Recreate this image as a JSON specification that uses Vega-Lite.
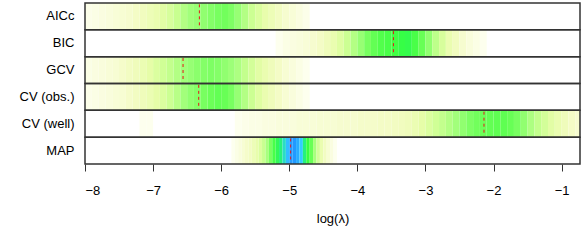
{
 "$schema": "https://vega.github.io/schema/vega-lite/v6.json",
 "width": 495, "height": 161,
 "autosize": "none",
 "padding": {"left": 85, "top": 3, "right": 1, "bottom": 85},
 "background": "white",
 "config": {"view": {"stroke": null}, "font": "Liberation Sans"},
 "datasets": {
  "opt": [
   {"method": "AICc", "opt": -6.32},
   {"method": "BIC", "opt": -3.47},
   {"method": "GCV", "opt": -6.56},
   {"method": "CV (obs.)", "opt": -6.33},
   {"method": "CV (well)", "opt": -2.14},
   {"method": "MAP", "opt": -4.98}
  ],
  "heat": [
   {"method":"AICc","lo":-8.0,"hi":-7.9,"v":0.04},{"method":"AICc","lo":-7.9,"hi":-7.8,"v":0.05},{"method":"AICc","lo":-7.8,"hi":-7.7,"v":0.06},{"method":"AICc","lo":-7.7,"hi":-7.6,"v":0.07},{"method":"AICc","lo":-7.6,"hi":-7.5,"v":0.08},{"method":"AICc","lo":-7.5,"hi":-7.4,"v":0.09},{"method":"AICc","lo":-7.4,"hi":-7.3,"v":0.10},{"method":"AICc","lo":-7.3,"hi":-7.2,"v":0.12},{"method":"AICc","lo":-7.2,"hi":-7.1,"v":0.14},{"method":"AICc","lo":-7.1,"hi":-7.0,"v":0.16},{"method":"AICc","lo":-7.0,"hi":-6.9,"v":0.18},{"method":"AICc","lo":-6.9,"hi":-6.8,"v":0.21},{"method":"AICc","lo":-6.8,"hi":-6.7,"v":0.24},{"method":"AICc","lo":-6.7,"hi":-6.6,"v":0.28},{"method":"AICc","lo":-6.6,"hi":-6.5,"v":0.32},{"method":"AICc","lo":-6.5,"hi":-6.4,"v":0.35},{"method":"AICc","lo":-6.4,"hi":-6.3,"v":0.37},{"method":"AICc","lo":-6.3,"hi":-6.2,"v":0.38},{"method":"AICc","lo":-6.2,"hi":-6.1,"v":0.40},{"method":"AICc","lo":-6.1,"hi":-6.0,"v":0.42},{"method":"AICc","lo":-6.0,"hi":-5.9,"v":0.43},{"method":"AICc","lo":-5.9,"hi":-5.8,"v":0.41},{"method":"AICc","lo":-5.8,"hi":-5.7,"v":0.37},{"method":"AICc","lo":-5.7,"hi":-5.6,"v":0.32},{"method":"AICc","lo":-5.6,"hi":-5.5,"v":0.27},{"method":"AICc","lo":-5.5,"hi":-5.4,"v":0.23},{"method":"AICc","lo":-5.4,"hi":-5.3,"v":0.19},{"method":"AICc","lo":-5.3,"hi":-5.2,"v":0.16},{"method":"AICc","lo":-5.2,"hi":-5.1,"v":0.13},{"method":"AICc","lo":-5.1,"hi":-5.0,"v":0.10},{"method":"AICc","lo":-5.0,"hi":-4.9,"v":0.08},{"method":"AICc","lo":-4.9,"hi":-4.8,"v":0.06},{"method":"AICc","lo":-4.8,"hi":-4.7,"v":0.04},
   {"method":"BIC","lo":-5.2,"hi":-5.1,"v":0.03},{"method":"BIC","lo":-5.1,"hi":-5.0,"v":0.05},{"method":"BIC","lo":-5.0,"hi":-4.9,"v":0.06},{"method":"BIC","lo":-4.9,"hi":-4.8,"v":0.07},{"method":"BIC","lo":-4.8,"hi":-4.7,"v":0.08},{"method":"BIC","lo":-4.7,"hi":-4.6,"v":0.10},{"method":"BIC","lo":-4.6,"hi":-4.5,"v":0.12},{"method":"BIC","lo":-4.5,"hi":-4.4,"v":0.15},{"method":"BIC","lo":-4.4,"hi":-4.3,"v":0.18},{"method":"BIC","lo":-4.3,"hi":-4.2,"v":0.22},{"method":"BIC","lo":-4.2,"hi":-4.1,"v":0.27},{"method":"BIC","lo":-4.1,"hi":-4.0,"v":0.32},{"method":"BIC","lo":-4.0,"hi":-3.9,"v":0.37},{"method":"BIC","lo":-3.9,"hi":-3.8,"v":0.42},{"method":"BIC","lo":-3.8,"hi":-3.7,"v":0.46},{"method":"BIC","lo":-3.7,"hi":-3.6,"v":0.50},{"method":"BIC","lo":-3.6,"hi":-3.5,"v":0.52},{"method":"BIC","lo":-3.5,"hi":-3.4,"v":0.54},{"method":"BIC","lo":-3.4,"hi":-3.3,"v":0.57},{"method":"BIC","lo":-3.3,"hi":-3.2,"v":0.58},{"method":"BIC","lo":-3.2,"hi":-3.1,"v":0.52},{"method":"BIC","lo":-3.1,"hi":-3.0,"v":0.45},{"method":"BIC","lo":-3.0,"hi":-2.9,"v":0.38},{"method":"BIC","lo":-2.9,"hi":-2.8,"v":0.30},{"method":"BIC","lo":-2.8,"hi":-2.7,"v":0.24},{"method":"BIC","lo":-2.7,"hi":-2.6,"v":0.18},{"method":"BIC","lo":-2.6,"hi":-2.5,"v":0.14},{"method":"BIC","lo":-2.5,"hi":-2.4,"v":0.10},{"method":"BIC","lo":-2.4,"hi":-2.3,"v":0.07},{"method":"BIC","lo":-2.3,"hi":-2.2,"v":0.05},{"method":"BIC","lo":-2.2,"hi":-2.1,"v":0.03},
   {"method":"GCV","lo":-8.0,"hi":-7.9,"v":0.05},{"method":"GCV","lo":-7.9,"hi":-7.8,"v":0.06},{"method":"GCV","lo":-7.8,"hi":-7.7,"v":0.07},{"method":"GCV","lo":-7.7,"hi":-7.6,"v":0.08},{"method":"GCV","lo":-7.6,"hi":-7.5,"v":0.09},{"method":"GCV","lo":-7.5,"hi":-7.4,"v":0.11},{"method":"GCV","lo":-7.4,"hi":-7.3,"v":0.13},{"method":"GCV","lo":-7.3,"hi":-7.2,"v":0.15},{"method":"GCV","lo":-7.2,"hi":-7.1,"v":0.17},{"method":"GCV","lo":-7.1,"hi":-7.0,"v":0.20},{"method":"GCV","lo":-7.0,"hi":-6.9,"v":0.23},{"method":"GCV","lo":-6.9,"hi":-6.8,"v":0.26},{"method":"GCV","lo":-6.8,"hi":-6.7,"v":0.29},{"method":"GCV","lo":-6.7,"hi":-6.6,"v":0.32},{"method":"GCV","lo":-6.6,"hi":-6.5,"v":0.35},{"method":"GCV","lo":-6.5,"hi":-6.4,"v":0.37},{"method":"GCV","lo":-6.4,"hi":-6.3,"v":0.39},{"method":"GCV","lo":-6.3,"hi":-6.2,"v":0.40},{"method":"GCV","lo":-6.2,"hi":-6.1,"v":0.41},{"method":"GCV","lo":-6.1,"hi":-6.0,"v":0.40},{"method":"GCV","lo":-6.0,"hi":-5.9,"v":0.38},{"method":"GCV","lo":-5.9,"hi":-5.8,"v":0.36},{"method":"GCV","lo":-5.8,"hi":-5.7,"v":0.33},{"method":"GCV","lo":-5.7,"hi":-5.6,"v":0.29},{"method":"GCV","lo":-5.6,"hi":-5.5,"v":0.25},{"method":"GCV","lo":-5.5,"hi":-5.4,"v":0.21},{"method":"GCV","lo":-5.4,"hi":-5.3,"v":0.18},{"method":"GCV","lo":-5.3,"hi":-5.2,"v":0.15},{"method":"GCV","lo":-5.2,"hi":-5.1,"v":0.12},{"method":"GCV","lo":-5.1,"hi":-5.0,"v":0.09},{"method":"GCV","lo":-5.0,"hi":-4.9,"v":0.07},{"method":"GCV","lo":-4.9,"hi":-4.8,"v":0.05},{"method":"GCV","lo":-4.8,"hi":-4.7,"v":0.03},
   {"method":"CV (obs.)","lo":-8.0,"hi":-7.9,"v":0.04},{"method":"CV (obs.)","lo":-7.9,"hi":-7.8,"v":0.05},{"method":"CV (obs.)","lo":-7.8,"hi":-7.7,"v":0.06},{"method":"CV (obs.)","lo":-7.7,"hi":-7.6,"v":0.07},{"method":"CV (obs.)","lo":-7.6,"hi":-7.5,"v":0.08},{"method":"CV (obs.)","lo":-7.5,"hi":-7.4,"v":0.09},{"method":"CV (obs.)","lo":-7.4,"hi":-7.3,"v":0.11},{"method":"CV (obs.)","lo":-7.3,"hi":-7.2,"v":0.13},{"method":"CV (obs.)","lo":-7.2,"hi":-7.1,"v":0.15},{"method":"CV (obs.)","lo":-7.1,"hi":-7.0,"v":0.17},{"method":"CV (obs.)","lo":-7.0,"hi":-6.9,"v":0.20},{"method":"CV (obs.)","lo":-6.9,"hi":-6.8,"v":0.23},{"method":"CV (obs.)","lo":-6.8,"hi":-6.7,"v":0.27},{"method":"CV (obs.)","lo":-6.7,"hi":-6.6,"v":0.31},{"method":"CV (obs.)","lo":-6.6,"hi":-6.5,"v":0.35},{"method":"CV (obs.)","lo":-6.5,"hi":-6.4,"v":0.38},{"method":"CV (obs.)","lo":-6.4,"hi":-6.3,"v":0.40},{"method":"CV (obs.)","lo":-6.3,"hi":-6.2,"v":0.42},{"method":"CV (obs.)","lo":-6.2,"hi":-6.1,"v":0.44},{"method":"CV (obs.)","lo":-6.1,"hi":-6.0,"v":0.46},{"method":"CV (obs.)","lo":-6.0,"hi":-5.9,"v":0.45},{"method":"CV (obs.)","lo":-5.9,"hi":-5.8,"v":0.42},{"method":"CV (obs.)","lo":-5.8,"hi":-5.7,"v":0.37},{"method":"CV (obs.)","lo":-5.7,"hi":-5.6,"v":0.32},{"method":"CV (obs.)","lo":-5.6,"hi":-5.5,"v":0.27},{"method":"CV (obs.)","lo":-5.5,"hi":-5.4,"v":0.22},{"method":"CV (obs.)","lo":-5.4,"hi":-5.3,"v":0.18},{"method":"CV (obs.)","lo":-5.3,"hi":-5.2,"v":0.15},{"method":"CV (obs.)","lo":-5.2,"hi":-5.1,"v":0.12},{"method":"CV (obs.)","lo":-5.1,"hi":-5.0,"v":0.09},{"method":"CV (obs.)","lo":-5.0,"hi":-4.9,"v":0.07},{"method":"CV (obs.)","lo":-4.9,"hi":-4.8,"v":0.05},{"method":"CV (obs.)","lo":-4.8,"hi":-4.7,"v":0.03},
   {"method":"CV (well)","lo":-7.2,"hi":-7.1,"v":0.03},{"method":"CV (well)","lo":-7.1,"hi":-7.0,"v":0.03},
   {"method":"CV (well)","lo":-5.8,"hi":-5.7,"v":0.03},{"method":"CV (well)","lo":-5.7,"hi":-5.6,"v":0.04},{"method":"CV (well)","lo":-5.6,"hi":-5.5,"v":0.05},{"method":"CV (well)","lo":-5.5,"hi":-5.4,"v":0.05},{"method":"CV (well)","lo":-5.4,"hi":-5.3,"v":0.06},{"method":"CV (well)","lo":-5.3,"hi":-5.2,"v":0.06},{"method":"CV (well)","lo":-5.2,"hi":-5.1,"v":0.07},{"method":"CV (well)","lo":-5.1,"hi":-5.0,"v":0.07},{"method":"CV (well)","lo":-5.0,"hi":-4.9,"v":0.07},{"method":"CV (well)","lo":-4.9,"hi":-4.8,"v":0.08},{"method":"CV (well)","lo":-4.8,"hi":-4.7,"v":0.08},{"method":"CV (well)","lo":-4.7,"hi":-4.6,"v":0.08},{"method":"CV (well)","lo":-4.6,"hi":-4.5,"v":0.09},{"method":"CV (well)","lo":-4.5,"hi":-4.4,"v":0.09},{"method":"CV (well)","lo":-4.4,"hi":-4.3,"v":0.09},{"method":"CV (well)","lo":-4.3,"hi":-4.2,"v":0.10},{"method":"CV (well)","lo":-4.2,"hi":-4.1,"v":0.10},{"method":"CV (well)","lo":-4.1,"hi":-4.0,"v":0.10},{"method":"CV (well)","lo":-4.0,"hi":-3.9,"v":0.11},{"method":"CV (well)","lo":-3.9,"hi":-3.8,"v":0.11},{"method":"CV (well)","lo":-3.8,"hi":-3.7,"v":0.11},{"method":"CV (well)","lo":-3.7,"hi":-3.6,"v":0.12},{"method":"CV (well)","lo":-3.6,"hi":-3.5,"v":0.12},{"method":"CV (well)","lo":-3.5,"hi":-3.4,"v":0.13},{"method":"CV (well)","lo":-3.4,"hi":-3.3,"v":0.14},{"method":"CV (well)","lo":-3.3,"hi":-3.2,"v":0.15},{"method":"CV (well)","lo":-3.2,"hi":-3.1,"v":0.17},{"method":"CV (well)","lo":-3.1,"hi":-3.0,"v":0.20},{"method":"CV (well)","lo":-3.0,"hi":-2.9,"v":0.23},{"method":"CV (well)","lo":-2.9,"hi":-2.8,"v":0.26},{"method":"CV (well)","lo":-2.8,"hi":-2.7,"v":0.29},{"method":"CV (well)","lo":-2.7,"hi":-2.6,"v":0.32},{"method":"CV (well)","lo":-2.6,"hi":-2.5,"v":0.35},{"method":"CV (well)","lo":-2.5,"hi":-2.4,"v":0.38},{"method":"CV (well)","lo":-2.4,"hi":-2.3,"v":0.41},{"method":"CV (well)","lo":-2.3,"hi":-2.2,"v":0.43},{"method":"CV (well)","lo":-2.2,"hi":-2.1,"v":0.44},{"method":"CV (well)","lo":-2.1,"hi":-2.0,"v":0.46},{"method":"CV (well)","lo":-2.0,"hi":-1.9,"v":0.47},{"method":"CV (well)","lo":-1.9,"hi":-1.8,"v":0.47},{"method":"CV (well)","lo":-1.8,"hi":-1.7,"v":0.45},{"method":"CV (well)","lo":-1.7,"hi":-1.6,"v":0.42},{"method":"CV (well)","lo":-1.6,"hi":-1.5,"v":0.38},{"method":"CV (well)","lo":-1.5,"hi":-1.4,"v":0.33},{"method":"CV (well)","lo":-1.4,"hi":-1.3,"v":0.29},{"method":"CV (well)","lo":-1.3,"hi":-1.2,"v":0.25},{"method":"CV (well)","lo":-1.2,"hi":-1.1,"v":0.21},{"method":"CV (well)","lo":-1.1,"hi":-1.0,"v":0.18},{"method":"CV (well)","lo":-1.0,"hi":-0.9,"v":0.15},{"method":"CV (well)","lo":-0.9,"hi":-0.8,"v":0.12},{"method":"CV (well)","lo":-0.8,"hi":-0.7,"v":0.10},
   {"method":"MAP","lo":-5.85,"hi":-5.80,"v":0.03},{"method":"MAP","lo":-5.80,"hi":-5.75,"v":0.05},{"method":"MAP","lo":-5.75,"hi":-5.70,"v":0.07},{"method":"MAP","lo":-5.70,"hi":-5.65,"v":0.09},{"method":"MAP","lo":-5.65,"hi":-5.60,"v":0.11},{"method":"MAP","lo":-5.60,"hi":-5.55,"v":0.13},{"method":"MAP","lo":-5.55,"hi":-5.50,"v":0.16},{"method":"MAP","lo":-5.50,"hi":-5.45,"v":0.19},{"method":"MAP","lo":-5.45,"hi":-5.40,"v":0.23},{"method":"MAP","lo":-5.40,"hi":-5.35,"v":0.28},{"method":"MAP","lo":-5.35,"hi":-5.30,"v":0.34},{"method":"MAP","lo":-5.30,"hi":-5.25,"v":0.42},{"method":"MAP","lo":-5.25,"hi":-5.20,"v":0.52},{"method":"MAP","lo":-5.20,"hi":-5.15,"v":0.60},{"method":"MAP","lo":-5.15,"hi":-5.10,"v":0.66},{"method":"MAP","lo":-5.10,"hi":-5.05,"v":0.74},{"method":"MAP","lo":-5.05,"hi":-5.00,"v":0.85},{"method":"MAP","lo":-5.00,"hi":-4.95,"v":0.98},{"method":"MAP","lo":-4.95,"hi":-4.90,"v":1.0},{"method":"MAP","lo":-4.90,"hi":-4.85,"v":0.92},{"method":"MAP","lo":-4.85,"hi":-4.80,"v":0.80},{"method":"MAP","lo":-4.80,"hi":-4.75,"v":0.66},{"method":"MAP","lo":-4.75,"hi":-4.70,"v":0.56},{"method":"MAP","lo":-4.70,"hi":-4.65,"v":0.45},{"method":"MAP","lo":-4.65,"hi":-4.60,"v":0.34},{"method":"MAP","lo":-4.60,"hi":-4.55,"v":0.25},{"method":"MAP","lo":-4.55,"hi":-4.50,"v":0.18},{"method":"MAP","lo":-4.50,"hi":-4.45,"v":0.13},{"method":"MAP","lo":-4.45,"hi":-4.40,"v":0.09},{"method":"MAP","lo":-4.40,"hi":-4.35,"v":0.06},{"method":"MAP","lo":-4.35,"hi":-4.30,"v":0.03}
  ]
 },
 "layer": [
  {
   "data": {"name": "heat"},
   "mark": {"type": "rect", "clip": true},
   "encoding": {
    "x": {"field": "lo", "type": "quantitative",
      "scale": {"domain": [-8, -0.73], "nice": false, "zero": false},
      "axis": {"title": "log(λ)", "values": [-8,-7,-6,-5,-4,-3,-2,-1], "format": "d", "grid": false, "domain": false,
        "tickSize": 7, "tickColor": "#333", "labelFontSize": 13, "labelColor": "black", "labelPadding": 13,
        "titleFontSize": 13, "titleFontWeight": "normal", "titleColor": "black", "titlePadding": 15}},
    "x2": {"field": "hi"},
    "y": {"field": "method", "type": "nominal",
      "scale": {"domain": ["AICc","BIC","GCV","CV (obs.)","CV (well)","MAP"], "paddingInner": 0, "paddingOuter": 0},
      "axis": {"title": null, "ticks": false, "domain": false, "labelFontSize": 13, "labelColor": "black", "labelPadding": 11}},
    "color": {"field": "v", "type": "quantitative", "legend": null,
      "scale": {"interpolate": "rgb", "domain": [0, 0.02, 0.06, 0.12, 0.2, 0.28, 0.36, 0.44, 0.56, 0.68, 0.8, 1],
                "range": ["#ffffff", "#fefff2", "#fafde0", "#f4fcc6", "#e6fda8", "#c8ff90", "#9dff78", "#6cff58", "#38ff40", "#22ee88", "#33ccff", "#2299ff"]}}
   }
  },
  {
   "data": {"name": "opt"},
   "mark": {"type": "rule", "color": "#e8161b", "strokeDash": [3, 3], "strokeWidth": 1},
   "encoding": {
    "x": {"field": "opt", "type": "quantitative"},
    "y": {"field": "method", "type": "nominal", "bandPosition": 0.05},
    "y2": {"field": "method", "bandPosition": 0.95}
   }
  },
  {
   "data": {"name": "opt"},
   "mark": {"type": "rect", "fillOpacity": 0, "stroke": "#333", "strokeWidth": 1.5},
   "encoding": {
    "x": {"datum": -8},
    "x2": {"datum": -0.73},
    "y": {"field": "method", "type": "nominal"}
   }
  }
 ]
}
